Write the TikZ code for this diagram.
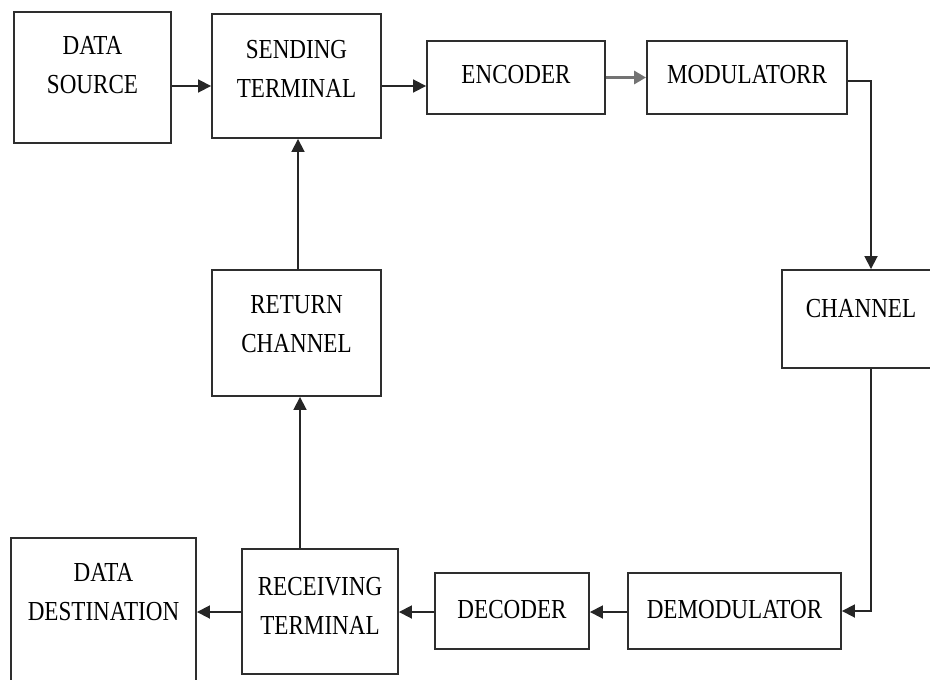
\documentclass[tikz,border=0pt]{standalone}
\usepackage{fontspec}
\setmainfont{Liberation Serif}
\usetikzlibrary{arrows.meta}
% narrow capitals used for the block captions
\newcommand\narrow[1]{\scalebox{0.84}[1]{#1}}
\begin{document}
\begin{tikzpicture}[x=1pt,y=-1pt,
  blk/.style={draw=black!82, line width=1.9pt, rectangle, inner sep=0pt},
  txt/.style={align=center, font=\fontsize{27.5}{39}\selectfont, text=black, inner sep=0pt},
  arr/.style={draw=black!85, line width=1.8pt, -{Triangle[length=13pt,width=13pt]}},
  garr/.style={draw=black!55, line width=3.4pt, -{Triangle[length=12pt,width=13pt]}}]
\useasboundingbox (0,0) rectangle (930,680);
\clip (0,0) rectangle (930,680);
\fill[white] (0,0) rectangle (930,680);

% transmitting side
\node[blk, minimum width=157pt, minimum height=131pt,
  label={[txt,yshift=12pt]center:{\narrow{DATA}\\\narrow{SOURCE}}}] (ds) at (92.5,77.5) {};
\node[blk, minimum width=169pt, minimum height=124pt,
  label={[txt,yshift=7pt]center:{\narrow{SENDING}\\\narrow{TERMINAL}}}] (st) at (296.5,76) {};
\node[blk, minimum width=178pt, minimum height=73pt,
  label={[txt,yshift=2.5pt]center:{\narrow{ENCODER}}}] (enc) at (516,77.5) {};
\node[blk, minimum width=200pt, minimum height=73pt,
  label={[txt,yshift=2.5pt]center:{\narrow{MODULATORR}}}] (mod) at (747,77.5) {};

% channels
\node[blk, minimum width=152pt, minimum height=98pt,
  label={[txt,yshift=10pt,xshift=3pt]center:{\narrow{CHANNEL}}}] (ch) at (858,319) {};
\node[blk, minimum width=169pt, minimum height=126pt,
  label={[txt,yshift=9pt]center:{\narrow{RETURN}\\\narrow{CHANNEL}}}] (rc) at (296.5,333) {};

% receiving side
\node[blk, minimum width=185pt, minimum height=146pt,
  label={[txt,yshift=18.5pt]center:{\narrow{DATA}\\\narrow{DESTINATION}}}] (dd) at (103.5,611) {};
\node[blk, minimum width=156pt, minimum height=125pt,
  label={[txt,yshift=6pt]center:{\narrow{RECEIVING}\\\narrow{TERMINAL}}}] (rt) at (320,611.5) {};
\node[blk, minimum width=154pt, minimum height=76pt,
  label={[txt,yshift=1pt]center:{\narrow{DECODER}}}] (dec) at (512,611) {};
\node[blk, minimum width=213pt, minimum height=76pt,
  label={[txt,yshift=1pt]center:{\narrow{DEMODULATOR}}}] (dem) at (734.5,611) {};

% forward path
\draw[arr] ([yshift=-8.5pt]ds.east) -- ([yshift=-10pt]st.west);
\draw[arr] ([yshift=-10pt]st.east) -- ([yshift=-8.5pt]enc.west);
\draw[garr] (enc.east) -- (mod.west);
\draw[arr] ([yshift=-3.5pt]mod.east) -| ([xshift=13pt]ch.north);
\draw[arr] ([xshift=13pt]ch.south) |- (dem.east);
\draw[arr] ([yshift=-1pt]dem.west) -- ([yshift=-1pt]dec.east);
\draw[arr] ([yshift=-1pt]dec.west) -- ([yshift=-0.5pt]rt.east);
\draw[arr] ([yshift=-0.5pt]rt.west) -- ([yshift=-1pt]dd.east);

% feedback path
\draw[arr] ([xshift=-20pt]rt.north) -- ([xshift=3.5pt]rc.south);
\draw[arr] ([xshift=1.5pt]rc.north) -- ([xshift=1.5pt]st.south);
\end{tikzpicture}
\end{document}
